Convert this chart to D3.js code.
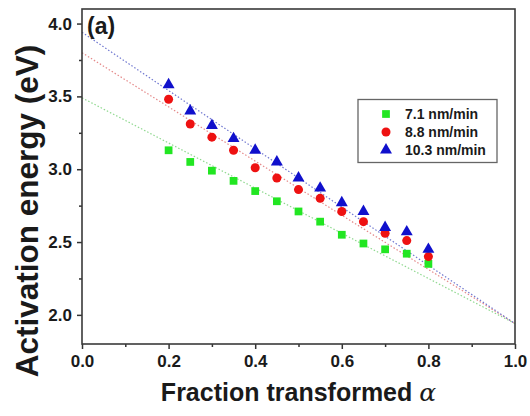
<!DOCTYPE html>
<html>
<head>
<meta charset="utf-8">
<script src="https://cdn.jsdelivr.net/npm/d3@7/dist/d3.min.js"></script>
<style>
  html, body { margin: 0; padding: 0; background: #fff; }
  svg { display: block; }
  text { font-family: "Liberation Sans", Arial, sans-serif; font-weight: bold; fill: #1a1a1a; }
</style>
</head>
<body>
<svg id="chart" width="530" height="416"></svg>
<script>
// Fraction transformed (alpha) at which activation energy was evaluated
const alpha = [0.2, 0.25, 0.3, 0.35, 0.4, 0.45, 0.5, 0.55, 0.6, 0.65, 0.7, 0.75, 0.8];

// Activation energy (eV) for each heating/deposition rate
const rate71  = [3.13, 3.05, 2.99, 2.92, 2.85, 2.78, 2.71, 2.64, 2.55, 2.49, 2.45, 2.42, 2.35];
const rate88  = [3.48, 3.31, 3.22, 3.13, 3.01, 2.94, 2.86, 2.80, 2.71, 2.64, 2.56, 2.51, 2.40];
const rate103 = [3.58, 3.40, 3.30, 3.21, 3.13, 3.05, 2.94, 2.87, 2.77, 2.71, 2.60, 2.57, 2.45];

const seriesNames = ["7.1 nm/min", "8.8 nm/min", "10.3 nm/min"];

// Linear extrapolation lines: energy at alpha = 0 and alpha = 1
const fitAlpha = [0, 1];
const fit71  = [3.49, 1.94];
const fit88  = [3.80, 1.94];
const fit103 = [3.94, 1.94];

// Axis ticks
const xTicks = [0.0, 0.2, 0.4, 0.6, 0.8, 1.0];
const xMinor = [0.1, 0.3, 0.5, 0.7, 0.9];
const yTicks = [2.0, 2.5, 3.0, 3.5, 4.0];
const yMinor = [2.25, 2.75, 3.25, 3.75];

const svg = d3.select("#chart");
const plotLeft = 82, plotRight = 515, plotTop = 9, plotBottom = 344;

const x = d3.scaleLinear().domain([0, 1]).range([plotLeft, plotRight]);
const y = d3.scaleLinear().domain([1.8, 4.1]).range([plotBottom, plotTop]);

const styles = [
  { values: rate71,  fit: fit71,  fill: "#22e622", line: "#8fd88f", shape: d3.symbolSquare,   size: 60 },
  { values: rate88,  fit: fit88,  fill: "#ee1111", line: "#e58a8a", shape: d3.symbolCircle,   size: 64 },
  { values: rate103, fit: fit103, fill: "#1010cc", line: "#7078d0", shape: d3.symbolTriangle, size: 62 }
];

// Dotted extrapolation lines
const lineGen = d3.line().x(d => x(d[0])).y(d => y(d[1]));
styles.forEach(s => {
  svg.append("path")
    .attr("d", lineGen(fitAlpha.map((a, i) => [a, s.fit[i]])))
    .attr("fill", "none")
    .attr("stroke", s.line)
    .attr("stroke-width", 1.2)
    .attr("stroke-dasharray", "1.5,2");
});

// Data markers
styles.forEach(s => {
  svg.append("g").selectAll("path")
    .data(alpha.map((a, i) => [a, s.values[i]]))
    .join("path")
    .attr("transform", d => `translate(${x(d[0])},${y(d[1])})`)
    .attr("d", d3.symbol().type(s.shape).size(s.size))
    .attr("fill", s.fill);
});

// Axes
const fmt = d3.format(".1f");
const xAxis = svg.append("g").attr("transform", `translate(0,${plotBottom})`)
  .call(d3.axisBottom(x).tickValues(xTicks).tickFormat(fmt).tickSize(5).tickPadding(6));
svg.append("g").attr("transform", `translate(0,${plotBottom})`)
  .call(d3.axisBottom(x).tickValues(xMinor).tickFormat("").tickSize(3));
const yAxis = svg.append("g").attr("transform", `translate(${plotLeft},0)`)
  .call(d3.axisLeft(y).tickValues(yTicks).tickFormat(fmt).tickSize(5).tickPadding(5));
svg.append("g").attr("transform", `translate(${plotLeft},0)`)
  .call(d3.axisLeft(y).tickValues(yMinor).tickFormat("").tickSize(3));

svg.selectAll(".tick line").attr("stroke", "#333").attr("stroke-width", 1.5);
svg.selectAll(".domain").remove();
[xAxis, yAxis].forEach(ax => ax.selectAll("text")
  .style("font-size", "17px").attr("fill", "#1a1a1a")
  .style("font-family", "'Liberation Sans', Arial, sans-serif").style("font-weight", "bold"));

// Plot frame
svg.append("rect")
  .attr("x", plotLeft).attr("y", plotTop)
  .attr("width", plotRight - plotLeft).attr("height", plotBottom - plotTop)
  .attr("fill", "none").attr("stroke", "#3a3a3a").attr("stroke-width", 1.6);

// Panel label
svg.append("text").attr("x", 87).attr("y", 34).style("font-size", "23px").text("(a)");

// Axis titles
const xt = svg.append("text")
  .attr("x", (plotLeft + plotRight) / 2).attr("y", 401)
  .attr("text-anchor", "middle").style("font-size", "25px");
xt.append("tspan").text("Fraction transformed ");
xt.append("tspan").style("font-family", "'DejaVu Serif', serif").style("font-style", "italic")
  .style("font-weight", "normal").text("α");

svg.append("text")
  .attr("transform", "translate(38,211) rotate(-90)")
  .attr("text-anchor", "middle").style("font-size", "31.5px")
  .text("Activation energy (eV)");

// Legend
const lg = svg.append("g");
lg.append("rect").attr("x", 358).attr("y", 99.5).attr("width", 139).attr("height", 63)
  .attr("fill", "#fff").attr("stroke", "#666").attr("stroke-width", 1.3);
styles.forEach((s, i) => {
  const cy = 114 + i * 18;
  lg.append("path").attr("transform", `translate(386,${cy})`)
    .attr("d", d3.symbol().type(s.shape).size(s.size)).attr("fill", s.fill);
  lg.append("text").attr("x", 405).attr("y", cy + 5).style("font-size", "14px")
    .text(seriesNames[i]);
});
</script>
</body>
</html>
